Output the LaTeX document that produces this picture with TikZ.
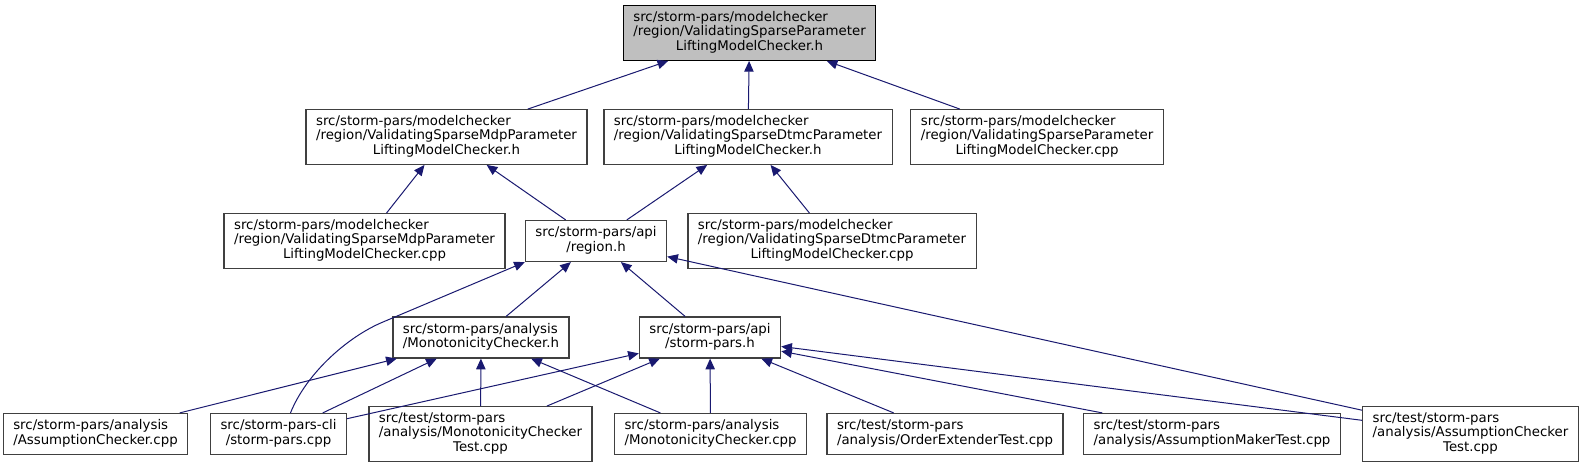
\documentclass[tikz,border=0pt]{standalone}
\usepackage{fontspec}
\setmainfont{DejaVu Sans}
\usetikzlibrary{arrows.meta}
\definecolor{midblue}{HTML}{191970}
\newcommand{\flines}[2]{\begin{tabular}{@{}l@{}}#1\\\multicolumn{1}{@{}c@{}}{#2}\end{tabular}}

\begin{document}
\begin{tikzpicture}[x=0.75pt,y=-0.75pt,every node/.style={font=\fontsize{10pt}{11pt}\selectfont,inner xsep=7.5pt,inner ysep=2pt},file/.style={draw=black!75,line width=0.9pt,fill=white,minimum height=41pt},file2/.style={draw=black!75,line width=0.9pt,fill=white,minimum height=30.75pt},arr/.style={-{Triangle[length=8pt,width=7pt]},draw=midblue,line width=0.75pt}]
\fill[white] (0,0) rectangle (1583,468);
\useasboundingbox (0,0) rectangle (1583,468);
% header and direct includers
\node[file,draw=black,fill=black!25] (top) at (749.5,33) {\flines{src/storm-pars/modelchecker\\/region/ValidatingSparseParameter}{LiftingModelChecker.h}};
\node[file] (mdph) at (446.5,137) {\flines{src/storm-pars/modelchecker\\/region/ValidatingSparseMdpParameter}{LiftingModelChecker.h}};
\node[file] (dtmch) at (748,137) {\flines{src/storm-pars/modelchecker\\/region/ValidatingSparseDtmcParameter}{LiftingModelChecker.h}};
\node[file] (vcpp) at (1037,137) {\flines{src/storm-pars/modelchecker\\/region/ValidatingSparseParameter}{LiftingModelChecker.cpp}};
\node[file] (mdpcpp) at (364.5,241) {\flines{src/storm-pars/modelchecker\\/region/ValidatingSparseMdpParameter}{LiftingModelChecker.cpp}};
\node[file2] (region) at (596,241) {\flines{src/storm-pars/api}{/region.h}};
\node[file] (dtmccpp) at (832,241) {\flines{src/storm-pars/modelchecker\\/region/ValidatingSparseDtmcParameter}{LiftingModelChecker.cpp}};
\node[file2] (monoh) at (481,337.5) {\flines{src/storm-pars/analysis}{/MonotonicityChecker.h}};
\node[file2] (stormh) at (710,337.5) {\flines{src/storm-pars/api}{/storm-pars.h}};
% bottom row
\node[file2] (achk) at (95.5,434) {\flines{src/storm-pars/analysis}{/AssumptionChecker.cpp}};
\node[file2] (cli) at (278.5,434) {\flines{src/storm-pars-cli}{/storm-pars.cpp}};
\node[file] (monotest) at (480.5,434) {\flines{src/test/storm-pars\\/analysis/MonotonicityChecker}{Test.cpp}};
\node[file2] (monocpp) at (710.5,434) {\flines{src/storm-pars/analysis}{/MonotonicityChecker.cpp}};
\node[file2] (ordertest) at (945,434) {\flines{src/test/storm-pars}{/analysis/OrderExtenderTest.cpp}};
\node[file2] (makertest) at (1212,434) {\flines{src/test/storm-pars}{/analysis/AssumptionMakerTest.cpp}};
\node[file] (chktest) at (1470.5,434) {\flines{src/test/storm-pars\\/analysis/AssumptionChecker}{Test.cpp}};
\coordinate (bend) at (383,322);
% include edges
\draw[arr] (mdph) -- (top);
\draw[arr] (dtmch) -- (top);
\draw[arr] (vcpp) -- (top);
\draw[arr] (mdpcpp) -- (mdph);
\draw[arr] (region) -- (mdph);
\draw[arr] (region) -- (dtmch);
\draw[arr] (dtmccpp) -- (dtmch);
\draw[arr] (monoh) -- (region);
\draw[arr] (stormh) -- (region);
\draw[arr] ([xshift=9pt]cli.north) .. controls (306,374) and (347,337) .. (bend) -- (region.south west);
\draw[arr] (chktest) -- (region);
\draw[arr] (achk) -- (monoh);
\draw[arr] (cli) -- (monoh);
\draw[arr] (monotest) -- (monoh);
\draw[arr] (monocpp) -- (monoh);
\draw[arr] (cli) -- (stormh);
\draw[arr] (monotest) -- (stormh);
\draw[arr] (monocpp) -- (stormh);
\draw[arr] (ordertest) -- (stormh);
\draw[arr] (makertest) -- (stormh);
\draw[arr] (chktest) -- (stormh);
\end{tikzpicture}
\end{document}
